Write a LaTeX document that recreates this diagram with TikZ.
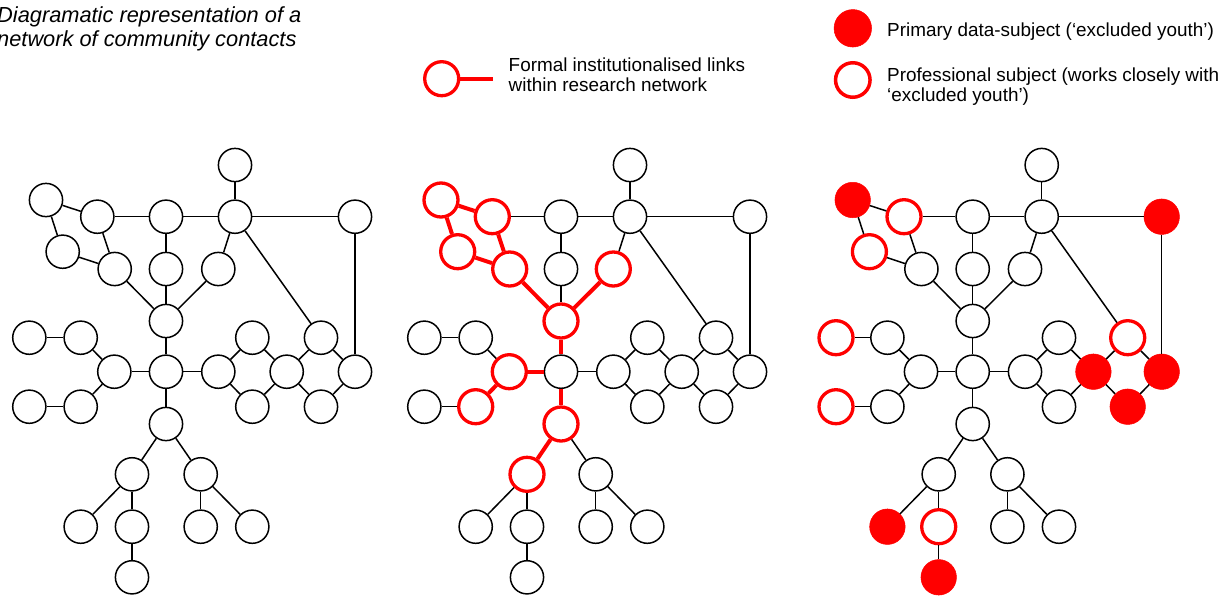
\documentclass[tikz,border=0pt]{standalone}
\usepackage{fontspec}
\setmainfont{Liberation Sans}
\definecolor{netred}{RGB}{255,0,0}

\tikzset{
  nd/.style={circle, draw=black, line width=1.5pt, minimum size=33.2pt, inner sep=0pt, fill=white},
  prof/.style={draw=netred, line width=3.3pt, minimum size=34pt},
  prim/.style={draw=netred, fill=netred, line width=0.5pt, minimum size=35.5pt},
  ln/.style={draw=black, line width=1.5pt},
  rl/.style={draw=netred, line width=4pt},
  txt/.style={inner sep=0pt, anchor=base west, font=\fontsize{18.9}{20}\selectfont},
  ttl/.style={inner sep=0pt, anchor=base west, font=\itshape\fontsize{21.8}{24}\selectfont},
}

% One copy of the contact network; #1 is the prefix of its node names.
% Per-node looks come from optional styles s-<node>, per-link looks from e-<a>-<b>.
\newcommand\netpanel[1]{%
  \node[nd,s-tp/.try] (#1tp) at (235,165) {};
  \node[nd,s-a1/.try] (#1a1) at (46,200) {};
  \node[nd,s-a2/.try] (#1a2) at (97.3,216.7) {};
  \node[nd,s-a3/.try] (#1a3) at (62.7,251.7) {};
  \node[nd,s-a4/.try] (#1a4) at (114.7,269) {};
  \node[nd,s-t1/.try] (#1t1) at (166,216.7) {};
  \node[nd,s-t2/.try] (#1t2) at (235,216.7) {};
  \node[nd,s-tr/.try] (#1tr) at (355,216.7) {};
  \node[nd,s-m1/.try] (#1m1) at (166,269) {};
  \node[nd,s-m2/.try] (#1m2) at (218.3,269) {};
  \node[nd,s-y/.try]  (#1y)  at (166,321) {};
  \node[nd,s-c/.try]  (#1c)  at (166,371.7) {};
  \node[nd,s-l/.try]  (#1l)  at (114.3,371.7) {};
  \node[nd,s-l1/.try] (#1l1) at (29.3,337.7) {};
  \node[nd,s-l2/.try] (#1l2) at (80.7,337.7) {};
  \node[nd,s-l3/.try] (#1l3) at (29.3,406.7) {};
  \node[nd,s-l4/.try] (#1l4) at (80.7,406.7) {};
  \node[nd,s-r1/.try] (#1r1) at (218.3,371.7) {};
  \node[nd,s-r2/.try] (#1r2) at (252.3,337.7) {};
  \node[nd,s-r3/.try] (#1r3) at (252.3,406.7) {};
  \node[nd,s-r4/.try] (#1r4) at (286.7,371.7) {};
  \node[nd,s-r5/.try] (#1r5) at (321,337.7) {};
  \node[nd,s-r6/.try] (#1r6) at (321,406.7) {};
  \node[nd,s-r7/.try] (#1r7) at (355,371.7) {};
  \node[nd,s-d1/.try] (#1d1) at (166,424) {};
  \node[nd,s-d2/.try] (#1d2) at (132,474.3) {};
  \node[nd,s-d3/.try] (#1d3) at (200.7,474.3) {};
  \node[nd,s-d4/.try] (#1d4) at (80.7,526.7) {};
  \node[nd,s-d5/.try] (#1d5) at (132,526.7) {};
  \node[nd,s-d6/.try] (#1d6) at (132,577.3) {};
  \node[nd,s-d7/.try] (#1d7) at (200.7,526.7) {};
  \node[nd,s-d8/.try] (#1d8) at (252.3,526.7) {};
  % links
  \draw[ln,e-tp-t2/.try] (#1tp) -- (#1t2);
  \draw[ln,e-a1-a2/.try] (#1a1) -- (#1a2);
  \draw[ln,e-a1-a3/.try] (#1a1) -- (#1a3);
  \draw[ln,e-a2-a4/.try] (#1a2) -- (#1a4);
  \draw[ln,e-a3-a4/.try] (#1a3) -- (#1a4);
  \draw[ln,e-a2-t1/.try] (#1a2) -- (#1t1);
  \draw[ln,e-t1-t2/.try] (#1t1) -- (#1t2);
  \draw[ln,e-t2-tr/.try] (#1t2) -- (#1tr);
  \draw[ln,e-t1-m1/.try] (#1t1) -- (#1m1);
  \draw[ln,e-m1-y/.try]  (#1m1) -- (#1y);
  \draw[ln,e-a4-y/.try]  (#1a4) -- (#1y);
  \draw[ln,e-t2-m2/.try] (#1t2) -- (#1m2);
  \draw[ln,e-m2-y/.try]  (#1m2) -- (#1y);
  \draw[ln,e-t2-r5/.try] (#1t2) -- (#1r5);
  \draw[ln,e-tr-r7/.try] (#1tr) -- (#1r7);
  \draw[ln,e-y-c/.try]   (#1y) -- (#1c);
  \draw[ln,e-c-l/.try]   (#1c) -- (#1l);
  \draw[ln,e-c-r1/.try]  (#1c) -- (#1r1);
  \draw[ln,e-c-d1/.try]  (#1c) -- (#1d1);
  \draw[ln,e-l-l2/.try]  (#1l) -- (#1l2);
  \draw[ln,e-l2-l1/.try] (#1l2) -- (#1l1);
  \draw[ln,e-l-l4/.try]  (#1l) -- (#1l4);
  \draw[ln,e-l4-l3/.try] (#1l4) -- (#1l3);
  \draw[ln,e-r1-r2/.try] (#1r1) -- (#1r2);
  \draw[ln,e-r1-r3/.try] (#1r1) -- (#1r3);
  \draw[ln,e-r2-r4/.try] (#1r2) -- (#1r4);
  \draw[ln,e-r3-r4/.try] (#1r3) -- (#1r4);
  \draw[ln,e-r4-r5/.try] (#1r4) -- (#1r5);
  \draw[ln,e-r4-r6/.try] (#1r4) -- (#1r6);
  \draw[ln,e-r5-r7/.try] (#1r5) -- (#1r7);
  \draw[ln,e-r6-r7/.try] (#1r6) -- (#1r7);
  \draw[ln,e-d1-d2/.try] (#1d1) -- (#1d2);
  \draw[ln,e-d1-d3/.try] (#1d1) -- (#1d3);
  \draw[ln,e-d2-d4/.try] (#1d2) -- (#1d4);
  \draw[ln,e-d2-d5/.try] (#1d2) -- (#1d5);
  \draw[ln,e-d5-d6/.try] (#1d5) -- (#1d6);
  \draw[ln,e-d3-d7/.try] (#1d3) -- (#1d7);
  \draw[ln,e-d3-d8/.try] (#1d3) -- (#1d8);
}

\begin{document}
\begin{tikzpicture}[x=1pt,y=-1pt]
  \useasboundingbox[fill=white] (0,0) rectangle (1225,595);

  % title
  \node[ttl] (ttl1) at (-3,22.7) {Diagramatic representation of a};
  \node[ttl] (ttl2) at (-3,46.5) {network of community contacts};

  % legend: formal links
  \node[nd,prof] (lgf) at (441.7,78.7) {};
  \coordinate (lgfend) at (492.7,78.7);
  \draw[rl] (lgf) -- (lgfend);
  \node[txt] (lgft1) at (508.5,71.7) {Formal institutionalised links};
  \node[txt] (lgft2) at (508.5,91.3) {within research network};

  % legend: subjects
  \node[nd,prim,minimum size=37.5pt] (lgp) at (852.8,28.3) {};
  \node[txt] (lgpt) at (887,36.7) {Primary data-subject (‘excluded youth’)};
  \node[nd,prof,minimum size=34.5pt,line width=3.5pt] (lgs) at (852.8,80) {};
  \node[txt] (lgst1) at (887,81) {Professional subject (works closely with};
  \node[txt] (lgst2) at (887,101.7) {‘excluded youth’)};

  % plain network
  \netpanel{p}

  % network with formal links
  \begin{scope}[xshift=395pt,
      s-a1/.style={prof}, s-a2/.style={prof}, s-a3/.style={prof}, s-a4/.style={prof},
      s-m2/.style={prof}, s-y/.style={prof}, s-l/.style={prof}, s-l4/.style={prof},
      s-d1/.style={prof}, s-d2/.style={prof},
      e-a1-a2/.style={rl}, e-a1-a3/.style={rl}, e-a2-a4/.style={rl}, e-a3-a4/.style={rl},
      e-a4-y/.style={rl}, e-m2-y/.style={rl}, e-y-c/.style={rl}, e-c-l/.style={rl},
      e-l-l4/.style={rl}, e-c-d1/.style={rl}, e-d1-d2/.style={rl}]
    \netpanel{q}
  \end{scope}

  % network with subjects
  \begin{scope}[xshift=806.7pt,
      s-a1/.style={prim}, s-tr/.style={prim}, s-r4/.style={prim}, s-r7/.style={prim},
      s-r6/.style={prim}, s-d4/.style={prim}, s-d6/.style={prim},
      s-a2/.style={prof}, s-a3/.style={prof}, s-r5/.style={prof}, s-l1/.style={prof},
      s-l3/.style={prof}, s-d5/.style={prof}]
    \netpanel{s}
  \end{scope}
\end{tikzpicture}
\end{document}
